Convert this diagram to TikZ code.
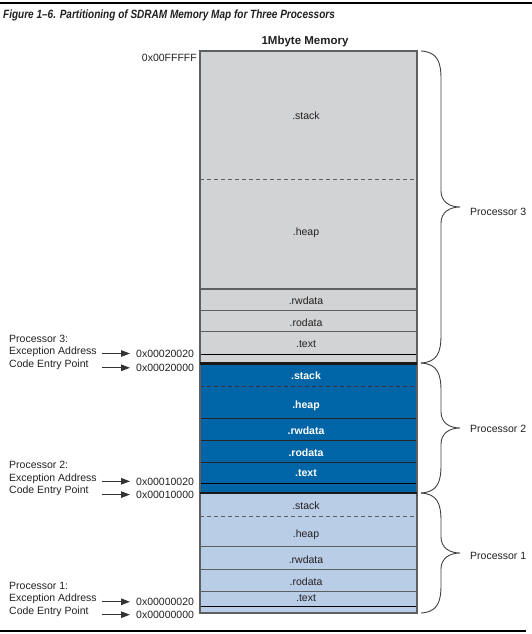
\documentclass[tikz,border=0pt]{standalone}
\usepackage{fontspec}
\setmainfont{Liberation Sans}
\usetikzlibrary{arrows.meta}
\definecolor{memgray}{HTML}{D1D3D4}
\definecolor{memblue}{HTML}{0065A6}
\definecolor{memlight}{HTML}{B9CDE7}
\definecolor{divgray}{HTML}{5E5F62}
\definecolor{inkc}{HTML}{231F20}
\newcommand\membrace[2]{%
  \pgfmathsetmacro\bm{(#1+#2)/2}%
  \draw[bracestyle] (421,#1) .. controls (437,#1+1) and (441,#1+10) .. (441,#1+28)
    -- (441,\bm-16) .. controls (441,\bm-5) and (450,\bm) .. (460,\bm)
    .. controls (450,\bm) and (441,\bm+5) .. (441,\bm+16)
    -- (441,#2-28) .. controls (441,#2-10) and (437,#2-1) .. (421,#2);}
\begin{document}
\begin{tikzpicture}[x=1bp,y=-1bp,
  font=\fontsize{10.5bp}{12bp}\selectfont, text=inkc,
  seclbl/.style={inner sep=0pt, anchor=center},
  seclblw/.style={seclbl, text=white, font=\fontsize{10.5bp}{12bp}\selectfont\bfseries},
  divider/.style={draw=divgray, line width=1.3bp},
  dashdiv/.style={draw=divgray, line width=1bp, dash pattern=on 4bp off 3bp},
  entryline/.style={draw=black, line width=0.9bp},
  boundary/.style={draw=black!90, line width=2.5bp},
  arr/.style={draw=black!80, line width=1.2bp, -{Triangle[length=9bp,width=6.5bp]}},
  bracestyle/.style={draw=black!75, line width=0.9bp},
  lbl/.style={inner sep=0pt, anchor=west},
  addr/.style={anchor=west, inner xsep=6bp, inner ysep=0pt}
]
\useasboundingbox (0,0) rectangle (532,634);
% rules
\draw[line width=2bp] (0,3.5) -- (532,3.5);
\draw[line width=1.5bp] (0,631) -- (526,631);
% title
\node[lbl] (title) at (3,15) {\fontsize{12bp}{14bp}\selectfont\bfseries\itshape\scalebox{0.835}[1]{Figure 1–6. Partitioning of SDRAM Memory Map for Three Processors}};
\node[inner sep=0pt] (mem) at (305,41.5) {\fontsize{11.5bp}{14bp}\selectfont\bfseries 1Mbyte Memory};
\node[inner sep=0pt, anchor=east] (topaddr) at (197,58) {0x00FFFFF};
% fills
\fill[memgray] (200,51) rectangle (417,363);
\fill[memblue] (200,363) rectangle (417,493);
\fill[memlight] (200,493) rectangle (417,613);
% processor 3 dividers
\draw[dashdiv] (200,179.5) -- (417,179.5);
\draw[divider] (200,289) -- (417,289);
\draw[divider] (200,310.5) -- (417,310.5);
\draw[divider] (200,331.5) -- (417,331.5);
\draw[entryline] (200,354.3) -- (417,354.3);
% processor 2 dividers
\draw[draw=black!80, line width=1bp, dash pattern=on 4bp off 3bp] (200,386.7) -- (417,386.7);
\draw[draw=black!85, line width=1.1bp] (200,418.7) -- (417,418.7);
\draw[draw=black!85, line width=1.1bp] (200,440.3) -- (417,440.3);
\draw[draw=black!85, line width=1.1bp] (200,462.3) -- (417,462.3);
\draw[entryline] (200,483.7) -- (417,483.7);
% processor 1 dividers
\draw[dashdiv] (200,516) -- (417,516);
\draw[divider] (200,546.7) -- (417,546.7);
\draw[divider] (200,569.3) -- (417,569.3);
\draw[divider] (200,591.7) -- (417,591.7);
\draw[entryline] (200,606) -- (417,606);
% outline and boundaries
\draw[divgray, line width=1.6bp] (200,51) rectangle (417,613);
\draw[boundary] (200,363.3) -- (417,363.3);
\draw[boundary] (200,493) -- (417,493);
% section labels
\node[seclbl] (s3stack) at (306,116) {.stack};
\node[seclbl] (s3heap) at (306,233) {.heap};
\node[seclbl] (s3rw) at (306,301) {.rwdata};
\node[seclbl] (s3ro) at (306,323) {.rodata};
\node[seclbl] (s3text) at (306,344) {.text};
\node[seclblw] (s2stack) at (306,376) {.stack};
\node[seclblw] (s2heap) at (306,405.7) {.heap};
\node[seclblw] (s2rw) at (306,431) {.rwdata};
\node[seclblw] (s2ro) at (306,452.3) {.rodata};
\node[seclblw] (s2text) at (306,473.3) {.text};
\node[seclbl] (s1stack) at (306,506) {.stack};
\node[seclbl] (s1heap) at (306,534.3) {.heap};
\node[seclbl] (s1rw) at (306,559.3) {.rwdata};
\node[seclbl] (s1ro) at (306,581.7) {.rodata};
\node[seclbl] (s1text) at (306,598.3) {.text};
% braces
\membrace{51}{363}
\membrace{363}{493}
\membrace{493}{613}
\node[lbl] (p3) at (470,212) {Processor 3};
\node[lbl] (p2) at (470,429) {Processor 2};
\node[lbl] (p1) at (470,556) {Processor 1};
% left labels
\node[lbl] (p3t) at (9,338.5) {Processor 3:};
\node[lbl] (p3e) at (9,351.8) {Exception Address};
\node[lbl] (p3c) at (9,364.7) {Code Entry Point};
\node[lbl] (p2t) at (9,465.3) {Processor 2:};
\node[lbl] (p2e) at (9,478.9) {Exception Address};
\node[lbl] (p2c) at (9,491.2) {Code Entry Point};
\node[lbl] (p1t) at (9,586) {Processor 1:};
\node[lbl] (p1e) at (9,599) {Exception Address};
\node[lbl] (p1c) at (9,611.3) {Code Entry Point};
% addresses
\node[addr] (a3e) at (130,354) {0x00020020};
\node[addr] (a3c) at (130,368) {0x00020000};
\node[addr] (a2e) at (130,481.5) {0x00010020};
\node[addr] (a2c) at (130,494.6) {0x00010000};
\node[addr] (a1e) at (130,602) {0x00000020};
\node[addr] (a1c) at (130,615) {0x00000000};
% arrows
\coordinate (c3e) at (102,353.5);
\coordinate (c3c) at (102,367.8);
\coordinate (c2e) at (102,481.3);
\coordinate (c2c) at (102,494.6);
\coordinate (c1e) at (102,601.8);
\coordinate (c1c) at (102,614.7);
\draw[arr] (c3e) -- (c3e -| a3e.west);
\draw[arr] (c3c) -- (c3c -| a3c.west);
\draw[arr] (c2e) -- (c2e -| a2e.west);
\draw[arr] (c2c) -- (c2c -| a2c.west);
\draw[arr] (c1e) -- (c1e -| a1e.west);
\draw[arr] (c1c) -- (c1c -| a1c.west);
\end{tikzpicture}
\end{document}
